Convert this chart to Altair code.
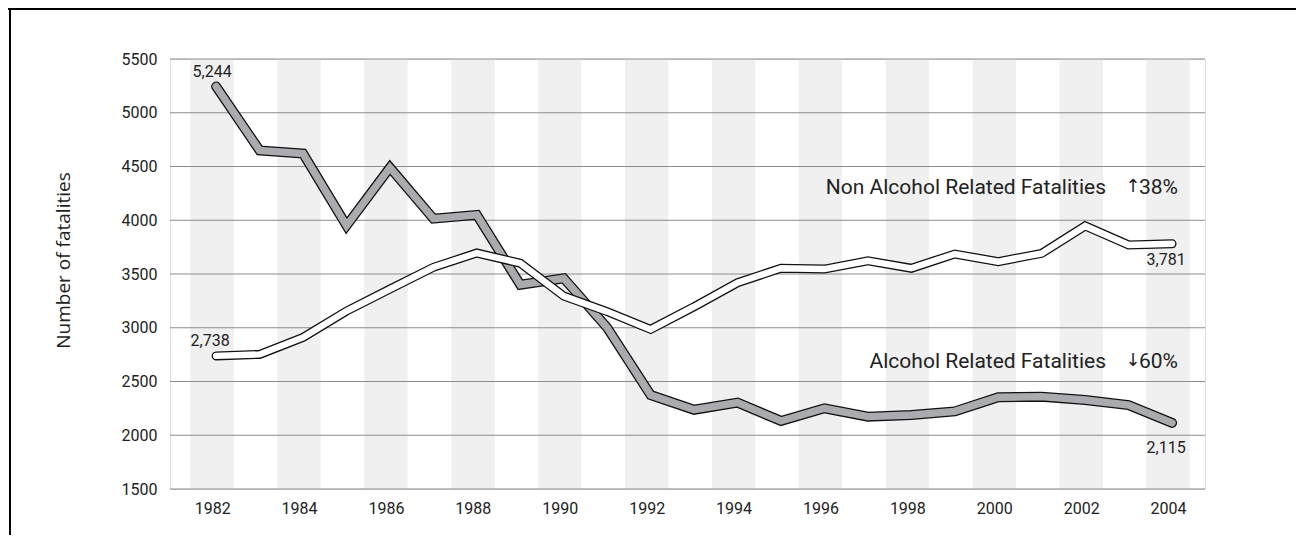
import altair as alt
import pandas as pd

years = list(range(1982, 2005))
alcohol = [5244, 4650, 4620, 3950, 4490, 4015, 4050, 3400, 3460, 3000, 2374, 2237,
           2303, 2133, 2251, 2173, 2188, 2222, 2353, 2359, 2328, 2281, 2115]
non_alcohol = [2738, 2752, 2910, 3155, 3360, 3562, 3695, 3600, 3295, 3150, 2985, 3196,
               3419, 3553, 3546, 3623, 3553, 3686, 3615, 3692, 3947, 3770, 3781]
band_years = [y for y in years if y % 2 == 0]
y_ticks = list(range(1500, 5501, 500))

W, H = 1035, 430

df = pd.DataFrame({"year": years, "alcohol": alcohol, "non_alcohol": non_alcohol})
bands = pd.DataFrame({"x1": [y - 0.5 for y in band_years], "x2": [y + 0.5 for y in band_years]})

xscale = alt.Scale(domain=[1981.03, 2004.85], nice=False, zero=False)
yscale = alt.Scale(domain=[1500, 5500], nice=False, zero=False)

band_layer = alt.Chart(bands).mark_rect(color="#f0f0f0").encode(
    x=alt.X("x1:Q", scale=xscale, axis=alt.Axis(
        values=band_years, format="d", title=None, grid=False, ticks=False, domain=False,
        labelFont="Roboto", labelFontSize=16, labelColor="#222", labelPadding=11)),
    x2="x2:Q",
    y=alt.value(0),
    y2=alt.value(H),
)

grid_df = pd.DataFrame({"v": y_ticks})
grid_layer = alt.Chart(grid_df).mark_rule(color="#8c8c8c", strokeWidth=1.2).encode(
    y=alt.Y("v:Q", scale=yscale, axis=alt.Axis(
        values=y_ticks, format="d", title="Number of fatalities", grid=False, ticks=False,
        domain=False, labelFont="Roboto", labelFontSize=16, labelColor="#222",
        labelPadding=13, titleFont="Open Sans", titleFontSize=19, titleFontWeight="normal",
        titleColor="#222", titleAngle=-90, titleX=-107, titleY=201,
        titleAlign="center", titleBaseline="middle")),
)

base = alt.Chart(df)
xo = 4


def line(field, color, width):
    return base.mark_line(color=color, strokeWidth=width, strokeCap="round",
                          strokeJoin="miter", xOffset=xo).encode(
        x=alt.X("year:Q", scale=xscale),
        y=alt.Y(f"{field}:Q", scale=yscale),
    )


alc_out = line("alcohol", "#111", 10)
alc_in = line("alcohol", "#aaabae", 7.4)
non_out = line("non_alcohol", "#111", 9)
non_in = line("non_alcohol", "#ffffff", 6.4)

first = df[df.year == 1982]
last = df[df.year == 2004]


def vlabel(d, field, dy, dx=0):
    return alt.Chart(d).mark_text(font="Roboto", fontSize=16, color="#222",
                                  dy=dy, dx=dx).encode(
        x=alt.X("year:Q", scale=xscale),
        y=alt.Y(f"{field}:Q", scale=yscale),
        text=alt.Text(f"{field}:Q", format=","),
    )


lab1 = vlabel(first, "alcohol", -15)
lab2 = vlabel(first, "non_alcohol", -15, -2)
lab3 = vlabel(last, "non_alcohol", 16, -2)
lab4 = vlabel(last, "alcohol", 25, -2)

ann = pd.DataFrame({
    "name": ["Non Alcohol Related Fatalities", "Alcohol Related Fatalities"],
    "arrow": ["\u2191", "\u2193"],
    "pct": ["38%", "60%"],
    "px": [936, 936],
    "py": [129, 303],
})
ann_name = alt.Chart(ann).mark_text(font="Roboto", fontSize=21, color="#222",
                                    align="right", baseline="middle").encode(
    x=alt.X("px:Q", scale=None), y=alt.Y("py:Q", scale=None), text="name:N")
ann_arrow = alt.Chart(ann).mark_text(font="DejaVu Sans", fontSize=18, color="#222",
                                     align="center", baseline="middle", dx=27, dy=-1).encode(
    x=alt.X("px:Q", scale=None), y=alt.Y("py:Q", scale=None), text="arrow:N")
ann_pct = alt.Chart(ann).mark_text(font="Roboto", fontSize=21, color="#222",
                                   align="left", baseline="middle", dx=33).encode(
    x=alt.X("px:Q", scale=None), y=alt.Y("py:Q", scale=None), text="pct:N")

border_top = alt.Chart(df).mark_rule(color="#000", strokeWidth=1.6).encode(
    x=alt.value(-162), x2=alt.value(W + 100), y=alt.value(-50.5))
border_left = alt.Chart(df).mark_rule(color="#000", strokeWidth=1.6).encode(
    x=alt.value(-160), y=alt.value(-52), y2=alt.value(H + 60))

chart = alt.layer(
    band_layer, grid_layer, alc_out, alc_in, non_out, non_in,
    lab1, lab2, lab3, lab4, ann_name, ann_arrow, ann_pct, border_top, border_left,
).properties(
    width=W, height=H,
    autosize=alt.AutoSizeParams(type="none"),
    padding={"left": 162, "top": 51, "right": 91, "bottom": 46},
).configure_view(stroke=None).configure(background="white")

chart.save("out.html", embed_options={"renderer": "svg", "actions": False})
